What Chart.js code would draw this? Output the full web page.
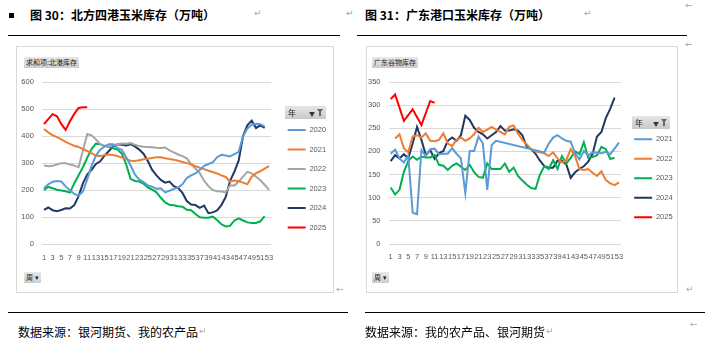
<!DOCTYPE html>
<html><head><meta charset="utf-8">
<script src="https://cdn.jsdelivr.net/npm/chart.js@4.4.1/dist/chart.umd.min.js"></script>
<style>
html,body{margin:0;padding:0;background:#fff;width:717px;height:354px;overflow:hidden;position:relative;font-family:"Noto Sans CJK SC",sans-serif;}
.title{position:absolute;font-weight:700;font-size:12px;color:#000;white-space:nowrap;line-height:1;}
.rule{position:absolute;height:0;border-top:1.5px solid #000;}
.box{position:absolute;border:1px solid #d9d9d9;box-sizing:border-box;}
.btn{position:absolute;background:linear-gradient(#e8e8e8,#cdcdcd);font-size:7px;color:#222;line-height:11px;height:11px;padding:0 2px;white-space:nowrap;}
.hdr{position:absolute;background:linear-gradient(#e6e6e6,#c9c9c9);font-size:8px;color:#222;line-height:13px;height:13px;white-space:nowrap;}
.hdr span.t{position:absolute;left:3px;top:0;}
.hdr span.a{position:absolute;right:11px;top:1px;font-size:6px;color:#333;}
.hdr span.f{position:absolute;right:3px;top:3px;width:0;height:0;border-left:3.5px solid transparent;border-right:3.5px solid transparent;border-top:4px solid #666;}
.hdr span.g{position:absolute;right:5.5px;top:6px;width:2px;height:4px;background:#666;}
.mark{position:absolute;color:#a6a6a6;font-family:"DejaVu Sans";font-size:9px;line-height:1;}
.src{position:absolute;font-size:12px;color:#000;white-space:nowrap;line-height:1;}
canvas{position:absolute;}
</style></head>
<body>
<script>
// ---------- data ----------
const weeks = [1,2,3,4,5,6,7,8,9,10,11,12,13,14,15,16,17,18,19,20,21,22,23,24,25,26,27,28,29,30,31,32,33,34,35,36,37,38,39,40,41,42,43,44,45,46,47,48,49,50,51,52,53];

// 北方四港玉米库存 (万吨)
const northYears = ['2020','2021','2022','2023','2024','2025'];
const north2020 = [207,222,231,234,232,214,200,186,180,195,240,290,328,350,362,370,370,355,349,322,292,258,240,230,218,213,205,207,192,198,205,210,222,245,255,262,275,290,297,303,322,331,328,325,333,342,400,428,442,446,444,436,null];
const north2021 = [426,414,403,396,388,379,371,364,360,352,345,337,328,326,330,332,330,326,321,315,309,308,311,314,316,319,322,322,318,315,313,309,304,300,296,289,283,278,272,267,262,255,249,232,236,233,228,222,250,263,270,280,289];
const north2022 = [291,289,290,295,300,300,295,291,285,null,408,403,388,370,363,362,366,370,373,372,374,368,363,361,360,359,357,356,358,347,340,332,326,318,296,280,263,235,215,201,196,195,192,218,217,232,250,268,262,250,237,220,201];
const north2023 = [201,212,207,202,199,196,191,225,255,285,320,352,372,370,364,360,355,350,335,295,242,234,232,224,210,202,192,172,155,146,144,141,139,128,126,112,100,98,98,102,90,74,66,68,88,96,88,81,79,79,85,104,null];
const north2024 = [127,136,126,122,127,133,132,145,178,225,258,275,297,307,328,345,362,370,368,365,370,362,350,335,308,275,255,238,228,232,215,208,190,160,147,145,135,143,115,118,125,145,175,235,268,310,400,440,457,430,440,430,null];
const north2025 = [444,463,481,473,445,423,455,482,504,507,507];

// 广东港口玉米库存 (万吨)
const southYears = ['2021','2022','2023','2024','2025'];
const south2021 = [195,204,185,176,191,68,64,203,190,205,206,194,195,195,207,195,185,110,201,201,232,217,117,214,223,null,null,null,null,null,null,null,null,null,null,198,217,230,235,228,223,221,196,183,201,192,198,197,196,199,194,206,219];
const south2022 = [null,228,237,207,198,232,235,230,239,223,222,225,239,217,212,225,230,223,228,237,251,242,247,253,247,242,237,253,256,238,225,215,205,200,198,196,190,198,185,176,181,205,190,162,160,162,154,147,157,138,131,127,133];
const south2023 = [122,107,117,156,179,189,182,189,187,187,192,171,169,160,169,174,167,160,171,155,145,143,174,162,162,162,174,156,165,147,137,128,121,119,150,168,162,181,162,190,174,186,200,194,220,186,188,192,210,205,184,186,null];
const south2024 = [179,192,185,194,185,217,253,225,192,203,184,196,201,223,230,223,235,277,268,251,242,237,228,235,242,255,245,245,248,245,235,210,205,195,180,168,165,165,180,180,172,143,155,162,168,178,195,232,242,272,292,316,null];
const south2025 = [313,323,null,266,null,291,null,257,null,309,305];

const northTicks = [0,100,200,300,400,500,600];
const southTicks = [0,50,100,150,200,250,300,350];
</script>

<div style="position:absolute;left:9px;top:13px;width:4.5px;height:4.5px;background:#000;"></div>
<div class="title" style="left:30px;top:9px;">图 30：北方四港玉米库存（万吨）</div>
<div class="title" style="left:365px;top:9px;">图 31：广东港口玉米库存（万吨）</div>
<div class="mark" style="left:254px;top:9px;">↵</div>
<div class="mark" style="left:346px;top:9px;">↵</div>
<div class="mark" style="left:584px;top:9px;">↵</div>
<div class="mark" style="left:685px;top:1px;">←</div>
<div class="mark" style="left:685px;top:40px;">←</div>
<div class="rule" style="left:8px;top:35px;width:332px;"></div>
<div class="rule" style="left:357px;top:35px;width:330px;"></div>

<div class="box" style="left:16px;top:46px;width:318px;height:247px;"></div>
<div class="box" style="left:366px;top:46px;width:312px;height:247px;"></div>

<canvas id="cN" width="316" height="246" style="left:17px;top:47px;"></canvas>
<canvas id="cS" width="316" height="246" style="left:367px;top:47px;"></canvas>

<div class="btn" style="left:24px;top:57px;">求和项:北港库存</div>
<div class="btn" style="left:372px;top:57px;">广东谷物库存</div>
<div class="hdr" style="left:285px;top:106px;width:41px;"><span class="t">年</span><span class="a">▼</span><span class="f"></span><span class="g"></span></div>
<div class="hdr" style="left:632px;top:116px;width:38px;"><span class="t">年</span><span class="a">▼</span><span class="f"></span><span class="g"></span></div>
<div class="btn" style="left:24px;top:272px;">周 ▾</div>
<div class="btn" style="left:372px;top:272px;">周 ▾</div>
<div class="mark" style="left:336px;top:285px;">←</div>
<div class="mark" style="left:686px;top:285px;">↵</div>

<div class="rule" style="left:8px;top:312px;width:340px;"></div>
<div class="rule" style="left:365px;top:312px;width:340px;"></div>
<div class="src" style="left:18px;top:326px;">数据来源：银河期货、我的农产品</div>
<div class="src" style="left:365px;top:326px;">数据来源：我的农产品、银河期货</div>
<div class="mark" style="left:199px;top:327px;">↵</div>
<div class="mark" style="left:546px;top:327px;">↵</div>
<div class="mark" style="left:690px;top:320px;">←</div>

<script>
const COLORS = {'2020':'#5B9BD5','2021':'#ED7D31','2022':'#A5A5A5','2023':'#00B050','2024':'#203864','2025':'#FF0000'};
const COLORS_S = {'2021':'#5B9BD5','2022':'#ED7D31','2023':'#00B050','2024':'#203864','2025':'#FF0000'};
const tickFont = {size:7.5, family:'Liberation Sans'};

function legendShift(dx){
  return {id:'legendShift', afterLayout(chart){ if(chart.legend){ chart.legend.left += dx; chart.legend.right += dx; } }};
}

function build(id, years, series, colors, ticks, yAxisW, titlePad, padRight, shift, padBottom, xPad){
  const datasets = years.map((y,i)=>({
    label:y, data:series[i], borderColor:colors[y], backgroundColor:colors[y],
    borderWidth:2, pointRadius:0, pointHoverRadius:0, tension:0, spanGaps:true, fill:false
  }));
  return new Chart(document.getElementById(id), {
    type:'line',
    data:{labels:weeks, datasets},
    plugins:[legendShift(shift)],
    options:{
      responsive:false, animation:false, devicePixelRatio:1,
      layout:{padding:{top:35,bottom:padBottom,left:0,right:padRight}},
      plugins:{
        legend:{position:'right',align:'start',
          title:{display:true,text:' ',font:{size:1,lineHeight:1},padding:{top:titlePad,bottom:0}},
          labels:{usePointStyle:true,pointStyle:'line',pointStyleWidth:18,padding:12,color:'#595959',font:tickFont}},
        tooltip:{enabled:false}
      },
      scales:{
        x:{offset:true,grid:{display:false,drawTicks:false},border:{display:false},
           ticks:{autoSkip:false,maxRotation:0,minRotation:0,padding:xPad,color:'#595959',font:tickFont,
             callback:function(v,i){return (i%2===0)?String(weeks[i]):'';}}},
        y:{min:ticks[0],max:ticks[ticks.length-1],
           grid:{color:'#d9d9d9',drawTicks:false,lineWidth:1},border:{display:false},
           afterBuildTicks:function(s){s.ticks=ticks.map(v=>({value:v}));},
           ticks:{padding:8,color:'#595959',font:tickFont},
           afterFit:function(s){s.width=yAxisW;}}
      }
    }
  });
}

build('cN', northYears, [north2020,north2021,north2022,north2023,north2024,north2025], COLORS, northTicks, 24.8, 31.25, 1.4, 4.5, 21.7, 9);
build('cS', southYears, [south2021,south2022,south2023,south2024,south2025], COLORS_S, southTicks, 21.5, 40.5, 1.4, 1, 23, 8.5);
</script>
</body></html>
